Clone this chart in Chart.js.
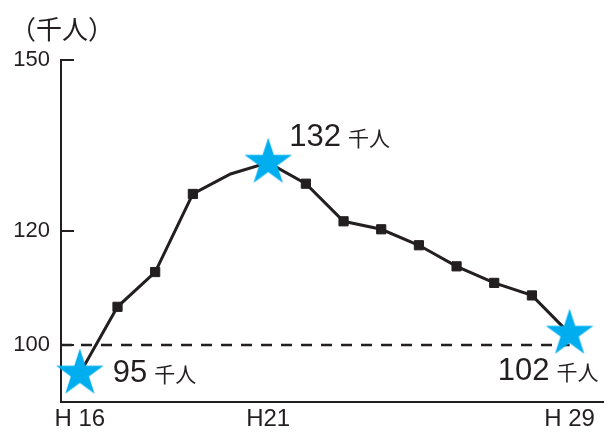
<!DOCTYPE html>
<html lang="ja">
<head>
  <meta charset="UTF-8" />
  <title>入込客数の推移</title>
  <script src="https://cdn.jsdelivr.net/npm/chart.js"></script>
  <style>
    html, body { margin: 0; padding: 0; background: #fff; }
    .wrap { position: relative; width: 611px; height: 432px; }
    .unidade {
      position: absolute; left: 10px; top: 9px;
      font: 26px "Noto Sans CJK JP"; line-height: 38px; color: #231f20;
    }
  </style>
</head>
<body>
  <div class="wrap">
    <div class="unidade">（千人）</div>
    <canvas id="grafico" width="611" height="432"></canvas>
  </div>

  <script>
    // dados (千人)
    const anos = [16, 17, 18, 19, 20, 21, 22, 23, 24, 25, 26, 27, 28, 29];
    const visitantes = [95, 106.7, 112.8, 126.5, 130.0, 132, 128.3, 121.7, 120.3, 117.5, 113.8, 110.9, 108.7, 102];
    const destaques = [0, 5, 13];          // pontos com estrela
    const semMarcador = [4];               // H20 sem quadrado
    const rotulos = ['95', '132', '102'];
    const yTicks = [100, 120, 150];
    const xTicks = [16, 21, 29];
    const xTickLabels = ['H 16', 'H21', 'H 29'];
    const linhaRef = 100;

    const COR = '#231f20';
    const AZUL = '#00aeef';
    const X_MIN = 15.5, X_MAX = 29.9;

    // posição dos rótulos em relação ao ponto (dx, dy da linha de base)
    const posRotulo = [
      { dx: 33, dy: 8, align: 'left' },
      { dx: 21, dy: -17, align: 'left' },
      { dx: 29, dy: 46, align: 'right' }
    ];

    function criarEstrela(r, cor) {
      const c = document.createElement('canvas');
      c.width = c.height = r * 2 + 2;
      const ctx = c.getContext('2d');
      ctx.translate(c.width / 2, c.height / 2);
      ctx.beginPath();
      for (let i = 0; i < 10; i++) {
        const rad = i % 2 === 0 ? r : r * 0.382;
        const a = -Math.PI / 2 + i * Math.PI / 5;
        ctx.lineTo(Math.cos(a) * rad, Math.sin(a) * rad);
      }
      ctx.closePath();
      ctx.fillStyle = cor;
      ctx.fill();
      return c;
    }

    const estrela = criarEstrela(25, AZUL);
    const estilos = anos.map((_, i) => destaques.includes(i) ? estrela : 'rect');
    const raios = anos.map((_, i) => semMarcador.includes(i) ? 0 : 6.5);

    // marcas curtas do eixo y para dentro + rótulos dos valores
    const extras = {
      id: 'extras',
      afterDatasetsDraw(chart) {
        const { ctx, chartArea, scales } = chart;
        ctx.save();
        ctx.strokeStyle = COR;
        ctx.lineWidth = 2;
        yTicks.forEach(v => {
          const y = Math.round(scales.y.getPixelForValue(v));
          ctx.beginPath();
          ctx.moveTo(chartArea.left, y);
          ctx.lineTo(chartArea.left + 13, y);
          ctx.stroke();
        });

        const meta = chart.getDatasetMeta(0);
        ctx.fillStyle = COR;
        ctx.textBaseline = 'alphabetic';
        destaques.forEach((idx, k) => {
          const p = meta.data[idx];
          const pos = posRotulo[k];
          const fNum = '31px "Liberation Sans", Arial, sans-serif';
          const fUn = '21px "Noto Sans CJK JP"';
          ctx.font = fNum;
          const wNum = ctx.measureText(rotulos[k]).width;
          ctx.font = fUn;
          const wUn = ctx.measureText('千人').width;
          const gap = 7;
          let x = p.x + pos.dx;
          if (pos.align === 'right') x -= wNum + gap + wUn;
          const y = p.y + pos.dy;
          ctx.textAlign = 'left';
          ctx.font = fNum;
          ctx.fillText(rotulos[k], x, y);
          ctx.font = fUn;
          ctx.fillText('千人', x + wNum + gap, y);
        });
        ctx.restore();
      }
    };

    new Chart(document.getElementById('grafico'), {
      type: 'line',
      data: {
        datasets: [
          {
            data: anos.map((a, i) => ({ x: a, y: visitantes[i] })),
            borderColor: COR,
            borderWidth: 3,
            tension: 0,
            pointStyle: estilos,
            pointRadius: raios,
            pointBackgroundColor: COR,
            pointBorderColor: COR,
            pointBorderWidth: 1,
            clip: false
          },
          {
            data: [{ x: X_MIN, y: linhaRef }, { x: anos[anos.length - 1], y: linhaRef }],
            borderColor: COR,
            borderWidth: 2.5,
            borderDash: [11, 9],
            pointRadius: 0
          }
        ]
      },
      options: {
        responsive: false,
        animation: false,
        events: [],
        layout: { padding: { top: 60, left: 0, right: 0, bottom: 0 } },
        plugins: { legend: { display: false }, tooltip: { enabled: false } },
        scales: {
          x: {
            type: 'linear',
            min: X_MIN,
            max: X_MAX,
            afterBuildTicks: s => { s.ticks = xTicks.map(v => ({ value: v })); },
            afterFit: s => { s.height = 30; },
            grid: { drawOnChartArea: false, drawTicks: false },
            border: { color: COR, width: 2 },
            ticks: {
              autoSkip: false,
              maxRotation: 0,
              padding: 3,
              color: COR,
              font: { family: '"Liberation Sans", Arial, sans-serif', size: 24 },
              callback: v => xTickLabels[xTicks.indexOf(v)]
            }
          },
          y: {
            min: 90,
            max: 150,
            afterBuildTicks: s => { s.ticks = yTicks.map(v => ({ value: v })); },
            afterFit: s => { s.width = 61; },
            grid: { drawOnChartArea: false, drawTicks: false },
            border: { color: COR, width: 2 },
            ticks: {
              padding: 11,
              color: COR,
              font: { family: '"Liberation Sans", Arial, sans-serif', size: 22 }
            }
          }
        }
      },
      plugins: [extras]
    });
  </script>
</body>
</html>
